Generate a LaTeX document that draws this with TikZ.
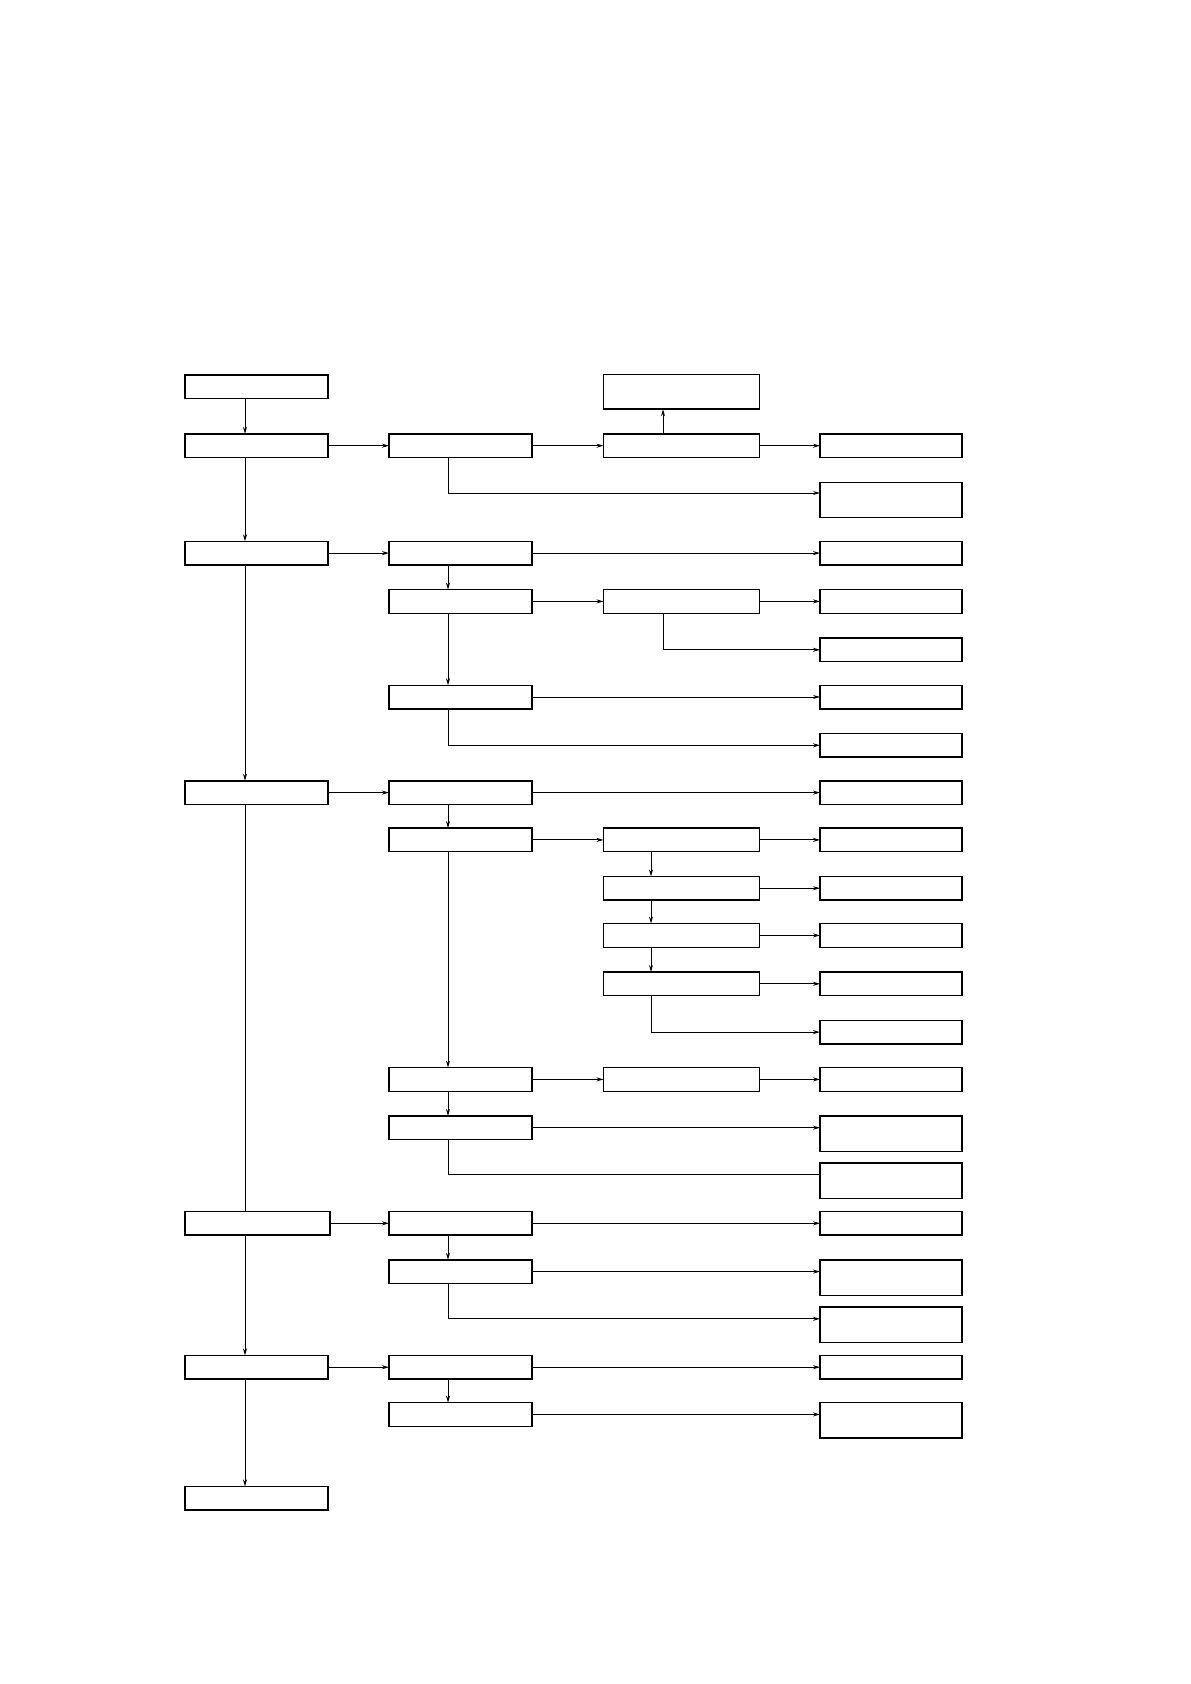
\documentclass[tikz,border=0pt]{standalone}
\usepackage{tikz}
\usetikzlibrary{arrows.meta,positioning,calc}

\begin{document}
\begin{tikzpicture}[x=0.5pt, y=-0.5pt,
  box/.style={draw, rectangle, line width=0.7pt, inner sep=0pt, outer sep=0pt, minimum width=71.5pt, minimum height=11.8pt},
  widebox/.style={box, minimum width=78pt},
  tallbox/.style={box, minimum width=71pt, minimum height=17.7pt, anchor=north},
  link/.style={line width=0.5pt},
  arr/.style={link, -{Stealth[length=3.5pt, width=2pt]}}]
  \useasboundingbox (0,0) rectangle (1190,1684);
  % spine positions
  \coordinate (k1) at (245,0);
  \coordinate (k2) at (448,0);
  \coordinate (k3) at (663,0);
  \coordinate (k4) at (651,0);

  % main column
  \node[box] (s1) at (256.5,386.7) {};
  \node[box] (s2) at (256.5,445.7) {};
  \node[box] (s3) at (256.5,553.1) {};
  \node[box] (s4) at (256.5,792.6) {};
  \node[box, minimum width=72.5pt] (s5) at (257.5,1223.3) {};
  \node[box] (s6) at (256.5,1367.2) {};
  \node[box] (s7) at (256.5,1498.2) {};

  % first branch
  \node[box] (a1) at (460.5,445.7) {};
  \node[widebox] (a2) at (681.5,445.7) {};
  \node[widebox, minimum height=17.2pt, anchor=north] (a0) at (681.5,374.8) {};
  \node[box, minimum width=71pt] (a3) at (891,445.7) {};
  \node[tallbox] (a4) at (891,482.2) {};

  % second branch
  \node[box] (b1) at (460.5,553.1) {};
  \node[box, minimum width=71pt] (b2) at (891,553.1) {};
  \node[box] (b3) at (460.5,601.4) {};
  \node[widebox] (b4) at (681.5,601.4) {};
  \node[box, minimum width=71pt] (b5) at (891,601.4) {};
  \node[box, minimum width=71pt] (b6) at (891,649.8) {};
  \node[box] (b7) at (460.5,697) {};
  \node[box, minimum width=71pt] (b8) at (891,697) {};
  \node[box, minimum width=71pt] (b9) at (891,745.3) {};

  % third branch
  \node[box] (c1) at (460.5,792.6) {};
  \node[box, minimum width=71pt] (c2) at (891,792.6) {};
  \node[box] (c3) at (460.5,839.9) {};
  \node[widebox] (c4) at (681.5,839.9) {};
  \node[box, minimum width=71pt] (c5) at (891,839.9) {};
  \node[widebox] (c6) at (681.5,888.2) {};
  \node[box, minimum width=71pt] (c7) at (891,888.2) {};
  \node[widebox] (c8) at (681.5,935.4) {};
  \node[box, minimum width=71pt] (c9) at (891,935.4) {};
  \node[widebox] (c10) at (681.5,983.8) {};
  \node[box, minimum width=71pt] (c11) at (891,983.8) {};
  \node[box, minimum width=71pt] (c12) at (891,1032.1) {};
  \node[box] (c13) at (460.5,1079.4) {};
  \node[widebox] (c14) at (681.5,1079.4) {};
  \node[box, minimum width=71pt] (c15) at (891,1079.4) {};
  \node[box] (c16) at (460.5,1127.7) {};
  \node[tallbox] (c17) at (891,1115.9) {};
  \node[tallbox] (c18) at (891,1163.1) {};

  % fourth branch
  \node[box] (d1) at (460.5,1223.3) {};
  \node[box, minimum width=71pt] (d2) at (891,1223.3) {};
  \node[box] (d3) at (460.5,1271.6) {};
  \node[tallbox] (d4) at (891,1259.8) {};
  \node[tallbox] (d5) at (891,1307) {};

  % fifth branch
  \node[box] (e1) at (460.5,1367.2) {};
  \node[box, minimum width=71pt] (e2) at (891,1367.2) {};
  \node[box] (e3) at (460.5,1414.4) {};
  \node[tallbox] (e4) at (891,1402.6) {};

  % main column links
  \draw[arr] (s1.south -| k1) -- (s2.north -| k1);
  \draw[arr] (s2.south -| k1) -- (s3.north -| k1);
  \draw[arr] (s3.south -| k1) -- (s4.north -| k1);
  \draw[link] (s4.south -| k1) -- (s5.north -| k1);
  \draw[arr] (s5.south -| k1) -- (s6.north -| k1);
  \draw[arr] (s6.south -| k1) -- (s7.north -| k1);

  % first branch links
  \draw[arr] (s2.east) -- (a1.west);
  \draw[arr] (a1.east) -- (a2.west);
  \draw[arr] (a2.east) -- (a3.west);
  \draw[arr] (a2.north -| k3) -- (a0.south -| k3);
  \draw[arr] (a1.south -| k2) |- ([yshift=-5.4pt]a4.north west);

  % second branch links
  \draw[arr] (s3.east) -- (b1.west);
  \draw[arr] (b1.east) -- (b2.west);
  \draw[arr] (b1.south -| k2) -- (b3.north -| k2);
  \draw[arr] (b3.east) -- (b4.west);
  \draw[arr] (b4.east) -- (b5.west);
  \draw[arr] (b4.south -| k3) |- (b6.west);
  \draw[arr] (b3.south -| k2) -- (b7.north -| k2);
  \draw[arr] (b7.east) -- (b8.west);
  \draw[arr] (b7.south -| k2) |- (b9.west);

  % third branch links
  \draw[arr] (s4.east) -- (c1.west);
  \draw[arr] (c1.east) -- (c2.west);
  \draw[arr] (c1.south -| k2) -- (c3.north -| k2);
  \draw[arr] (c3.east) -- (c4.west);
  \draw[arr] (c4.east) -- (c5.west);
  \draw[arr] (c4.south -| k4) -- (c6.north -| k4);
  \draw[arr] (c6.east) -- (c7.west);
  \draw[arr] (c6.south -| k4) -- (c8.north -| k4);
  \draw[arr] (c8.east) -- (c9.west);
  \draw[arr] (c8.south -| k4) -- (c10.north -| k4);
  \draw[arr] (c10.east) -- (c11.west);
  \draw[arr] (c10.south -| k4) |- (c12.west);
  \draw[arr] (c3.south -| k2) -- (c13.north -| k2);
  \draw[arr] (c13.east) -- (c14.west);
  \draw[arr] (c14.east) -- (c15.west);
  \draw[arr] (c13.south -| k2) -- (c16.north -| k2);
  \draw[arr] (c16.east) -- (c16.east -| c17.west);
  \draw[link] (c16.south -| k2) |- ([yshift=-5.9pt]c18.north west);

  % fourth branch links
  \draw[arr] (s5.east) -- (d1.west);
  \draw[arr] (d1.east) -- (d2.west);
  \draw[arr] (d1.south -| k2) -- (d3.north -| k2);
  \draw[arr] (d3.east) -- (d3.east -| d4.west);
  \draw[arr] (d3.south -| k2) |- ([yshift=-5.9pt]d5.north west);

  % fifth branch links
  \draw[arr] (s6.east) -- (e1.west);
  \draw[arr] (e1.east) -- (e2.west);
  \draw[arr] (e1.south -| k2) -- (e3.north -| k2);
  \draw[arr] (e3.east) -- (e3.east -| e4.west);
\end{tikzpicture}
\end{document}
